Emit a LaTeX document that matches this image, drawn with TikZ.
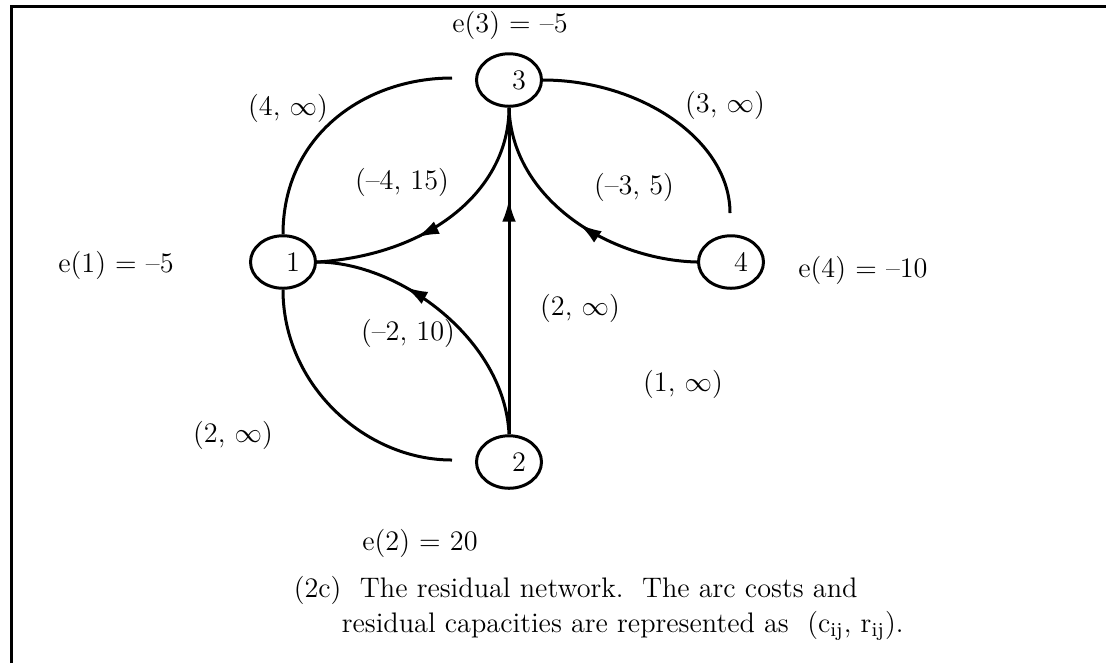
\documentclass[tikz,border=0pt]{standalone}
\usetikzlibrary{arrows.meta,shapes.geometric,decorations.markings}

\tikzset{
  vtx/.style={draw, ellipse, line width=1.2pt, minimum width=26pt,
    minimum height=21pt, inner sep=0pt},
  resarc/.style={line width=1.2pt},
  midarrow/.style={postaction={decorate}, decoration={markings,
    mark=at position #1 with {\arrow{Latex[length=9pt,width=5.5pt]}}}},
}

\begin{document}
\begin{tikzpicture}[x=0.4pt, y=-0.4pt, font=\fontsize{11.3}{13.5}\selectfont]
    \useasboundingbox (0,0) rectangle (1106,663);

    % Frame
    \draw[line width=1.2pt] (11,663) -- (11,6) -- (1106,6);

    % Nodes
    \node[vtx] (n3) at (509,80) {\hspace{8pt}3};
    \node[vtx] (n1) at (283,262) {\hspace{8pt}1};
    \node[vtx] (n4) at (731,262) {\hspace{8pt}4};
    \node[vtx] (n2) at (509,462) {\hspace{8pt}2};

    % Excesses
    \node (e3) at (510,25) {e(3) = --5};
    \node (e1) at (116,265) {e(1) = --5};
    \node (e4) at (863,270) {e(4) = --10};
    \node (e2) at (420,543) {e(2) = 20};

    % Free ends of the uncapacitated arcs
    \coordinate (c13) at (452,78);
    \coordinate (c34) at (730,213);
    \coordinate (c12) at (452,460);

    % Arcs without arrow
    \draw[resarc] (n1.north) .. controls (283,135) and (365,78) .. (c13);
    \draw[resarc] (n3.east) .. controls (640,80) and (730,140) .. (c34);
    \draw[resarc] (n1.south) .. controls (283,385) and (365,460) .. (c12);

    % Residual arcs
    \draw[resarc, midarrow=0.62] (n3.south) .. controls (509,190) and (430,255) .. (n1.east);
    \draw[resarc, midarrow=0.47] (n4.west) .. controls (610,260) and (512,200) .. (n3.south);
    \draw[resarc, midarrow=0.67] (n2.north) .. controls (505,340) and (400,262) .. (n1.east);
    \draw[resarc, midarrow=0.72] (n2.north) -- (n3.south);

    % Arc labels
    \node (w13) at (288,108) {(4, $\infty$)};
    \node (w34) at (725,105) {(3, $\infty$)};
    \node (w31) at (402,182) {(--4, 15)};
    \node (w43) at (634,187) {(--3, 5)};
    \node (w23) at (580,308) {(2, $\infty$)};
    \node (w21) at (408,333) {(--2, 10)};
    \node (w24) at (683,384) {(1, $\infty$)};
    \node (w12) at (233,435) {(2, $\infty$)};

    % Caption
    \node[anchor=west] (cap1) at (285,590)
        {(2c)\ \ The residual network.\ \ The arc costs and};
    \node[anchor=west] (cap2) at (333,626)
        {residual capacities are represented as\ \ (c\textsubscript{ij}, r\textsubscript{ij}).};
\end{tikzpicture}
\end{document}
